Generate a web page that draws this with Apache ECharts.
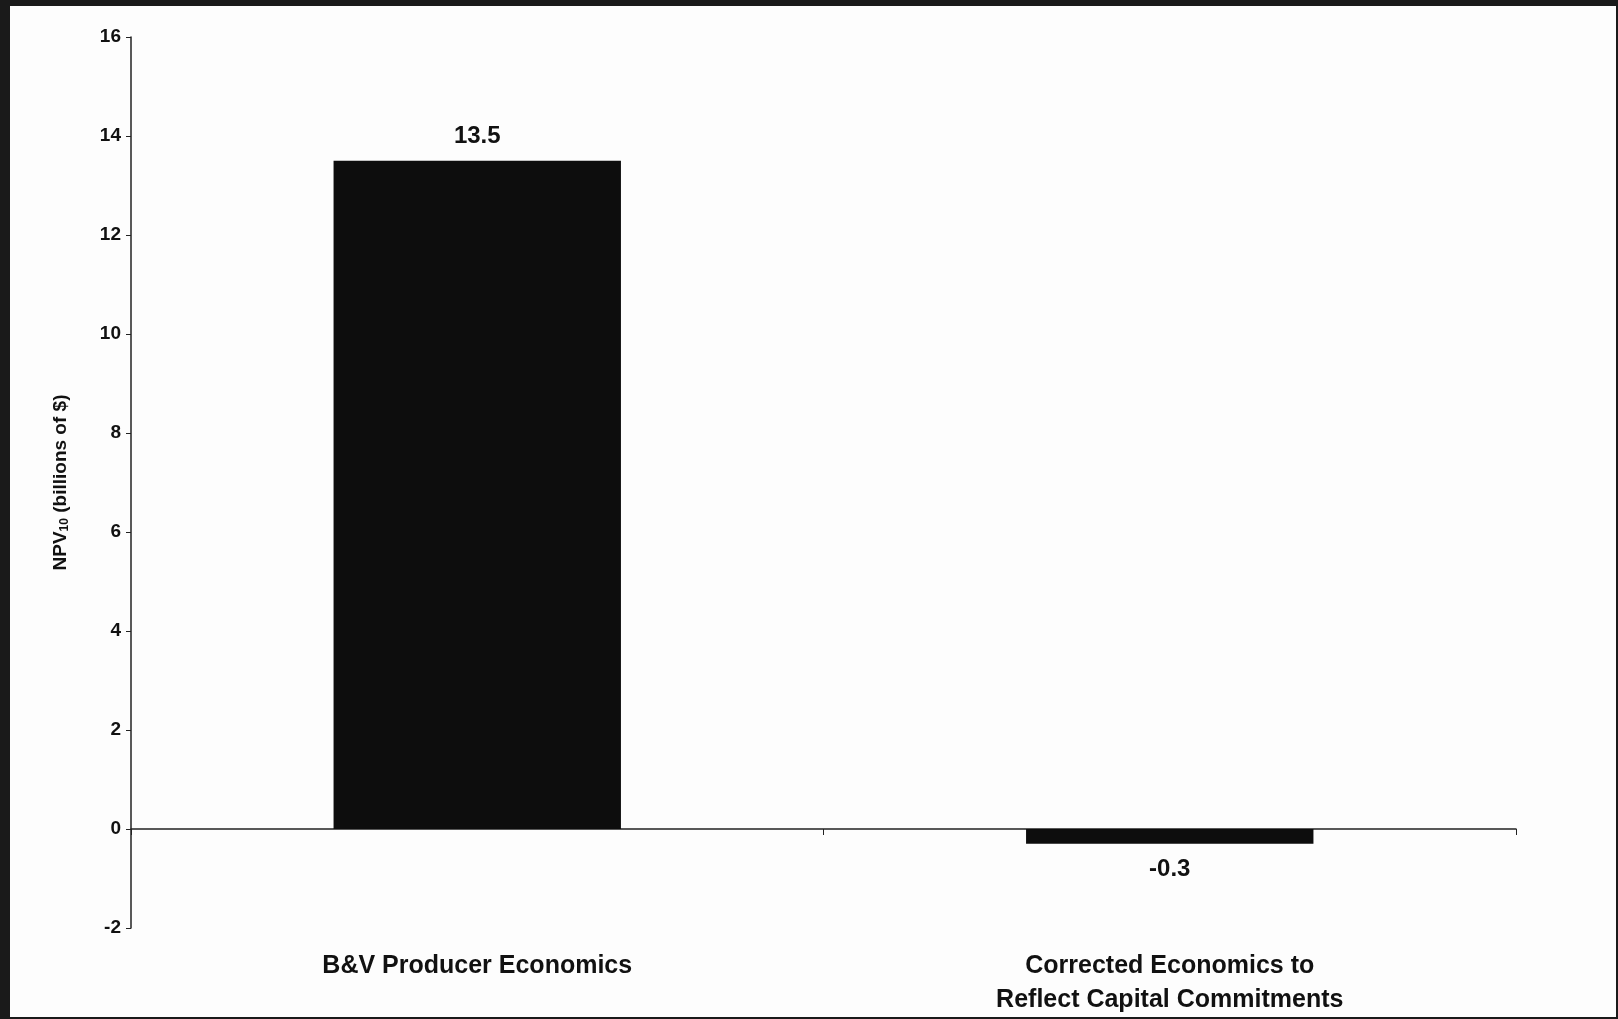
<!DOCTYPE html>
<html>
<head>
<meta charset="utf-8">
<script src="https://cdn.jsdelivr.net/npm/echarts@6/dist/echarts.min.js"></script>
<style>
  html, body { margin: 0; padding: 0; background: #1a1a1a; }
  #chart {
    position: absolute;
    left: 10px;
    top: 6px;
    width: 1606px;
    height: 1011px;
    background: #fdfdfd;
  }
</style>
</head>
<body>
<div id="chart"></div>
<script>
var categories = ["B&V Producer Economics", "Corrected Economics to\nReflect Capital Commitments"];
var npvValues = [13.5, -0.3];
var yTicks = { min: -2, max: 16, step: 2 };

var chart = echarts.init(document.getElementById("chart"));
var font = "'Liberation Sans', Arial, sans-serif";

var option = {
  animation: false,
  grid: { left: 121, right: 100, top: 31, bottom: 77 },
  xAxis: [
    {
      type: "category",
      data: categories,
      position: "bottom",
      axisLine: { onZero: true, lineStyle: { color: "#222", width: 1.5 } },
      axisTick: { show: true, length: 6, inside: false, lineStyle: { color: "#222" } },
      axisLabel: { show: false }
    },
    {
      type: "category",
      data: categories,
      position: "bottom",
      axisLine: { show: false, onZero: false },
      axisTick: { show: false },
      axisLabel: {
        margin: 21,
        color: "#111",
        fontFamily: font,
        fontWeight: "bold",
        fontSize: 25,
        lineHeight: 34
      }
    }
  ],
  yAxis: {
    type: "value",
    min: yTicks.min,
    max: yTicks.max,
    interval: yTicks.step,
    splitLine: { show: false },
    axisLine: { show: true, lineStyle: { color: "#222", width: 1.5 } },
    axisTick: { show: true, length: 5, lineStyle: { color: "#222" } },
    axisLabel: {
      margin: 10,
      color: "#111",
      fontFamily: font,
      fontWeight: "bold",
      fontSize: 19
    },
    name: "{n|NPV}{s|10}{n| (billions of $)}",
    nameLocation: "middle",
    nameGap: 60,
    nameRotate: 90,
    nameTextStyle: {
      rich: {
        n: { fontFamily: font, fontWeight: "bold", fontSize: 19, color: "#111" },
        s: { fontFamily: font, fontWeight: "bold", fontSize: 12, color: "#111", verticalAlign: "bottom", padding: [9, 0, 0, 0] }
      }
    }
  },
  series: [
    {
      type: "bar",
      xAxisIndex: 0,
      data: npvValues.map(function (v) {
        return {
          value: v,
          label: { position: v >= 0 ? "top" : "bottom", distance: v >= 0 ? 12 : 14 }
        };
      }),
      barWidth: "41.5%",
      itemStyle: { color: "#0d0d0d" },
      label: {
        show: true,
        color: "#111",
        fontFamily: font,
        fontWeight: "bold",
        fontSize: 24,
        formatter: function (p) { return p.value.toFixed(1); }
      }
    }
  ]
};

chart.setOption(option);
</script>
</body>
</html>
